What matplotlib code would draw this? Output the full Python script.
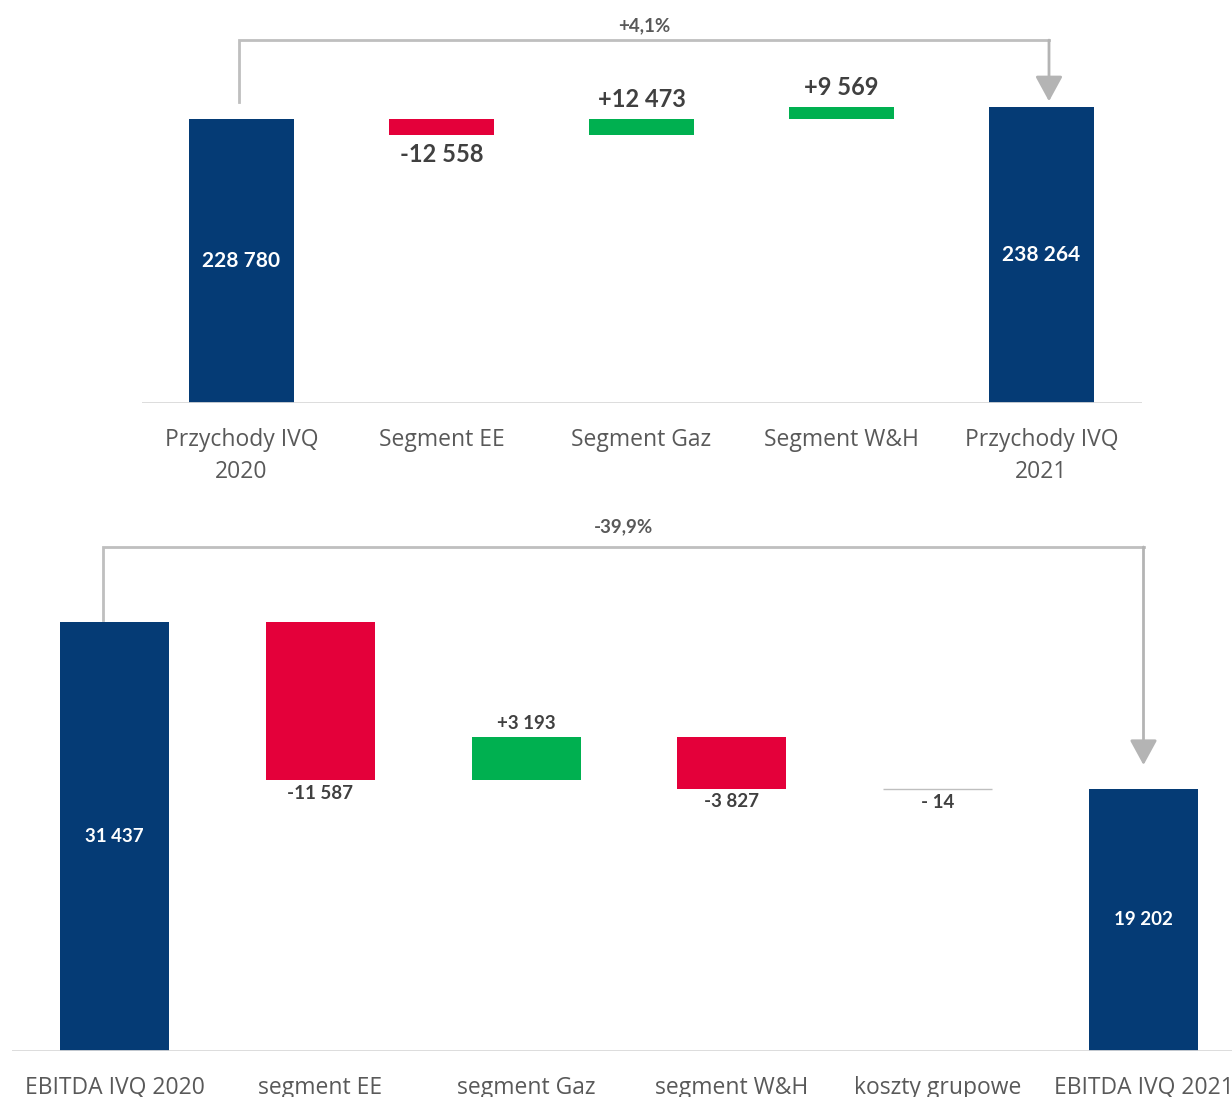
import matplotlib.pyplot as plt

# --- data -------------------------------------------------------------
rev_labels = ["Przychody IVQ\n2020", "Segment EE", "Segment Gaz", "Segment W&H", "Przychody IVQ\n2021"]
rev_start = 228780
rev_deltas = [-12558, 12473, 9569]
rev_end = 238264
rev_change = "+4,1%"

ebitda_labels = ["EBITDA IVQ 2020", "segment EE", "segment Gaz", "segment W&H", "koszty grupowe", "EBITDA IVQ 2021"]
ebitda_start = 31437
ebitda_deltas = [-11587, 3193, -3827, -14]
ebitda_end = 19202
ebitda_change = "-39,9%"

NAVY = "#053b75"
RED = "#e4003a"
GREEN = "#00b050"
GREY_LINE = "#bfbfbf"
TXT = "#595959"
VAL = "#404040"

LABEL_FONT = "Open Sans"
NUM_FONT = "Lato"


def fmt_total(v):
    return f"{v:,}".replace(",", " ")


def fmt_delta(v):
    sign = "+" if v > 0 else "-"
    if abs(v) < 1000:
        return sign + " " + str(abs(v))
    return sign + f"{abs(v):,}".replace(",", " ")


def waterfall(ax, labels, start, deltas, end, width, total_fs, delta_fs, gap_pt, cat_fs, pad):
    n = len(labels)
    xs = list(range(n))
    # totals
    ax.bar([0, n - 1], [start, end], width=width, color=NAVY, zorder=2)
    ax.text(0, start / 2, fmt_total(start), ha="center", va="center", color="white",
            fontsize=total_fs, fontweight="bold", family=NUM_FONT)
    ax.text(n - 1, end / 2, fmt_total(end), ha="center", va="center", color="white",
            fontsize=total_fs, fontweight="bold", family=NUM_FONT)
    level = start
    for i, d in enumerate(deltas, start=1):
        lo = min(level, level + d)
        if abs(d) < 100:
            ax.bar(i, abs(d), bottom=lo, width=width, color=GREY_LINE,
                   edgecolor=GREY_LINE, linewidth=1, zorder=2)
        else:
            ax.bar(i, abs(d), bottom=lo, width=width, color=GREEN if d > 0 else RED, zorder=2)
        if d > 0:
            ax.annotate(fmt_delta(d), xy=(i, lo + abs(d)), xytext=(0, gap_pt), textcoords="offset points",
                        ha="center", va="center", color=VAL, fontsize=delta_fs,
                        fontweight="bold", family=NUM_FONT)
        else:
            ax.annotate(fmt_delta(d), xy=(i, lo), xytext=(0, -gap_pt), textcoords="offset points",
                        ha="center", va="center", color=VAL, fontsize=delta_fs,
                        fontweight="bold", family=NUM_FONT)
        level += d
    ax.axhline(0, color="#d9d9d9", lw=2, zorder=3)
    ax.set_xticks(xs)
    ax.set_xticklabels(labels, fontsize=cat_fs, color=TXT, family=LABEL_FONT, linespacing=1.45)
    ax.tick_params(axis="x", length=0, pad=pad)
    ax.set_yticks([])
    for s in ax.spines.values():
        s.set_visible(False)
    ax.set_xlim(-0.5, n - 0.5)


def connector(ax, x0, y0, x1, y1, yc, text, ytext, fs):
    ax.plot([x0, x0, x1], [y0, yc, yc], color=GREY_LINE, lw=2, clip_on=False,
            solid_joinstyle="miter", zorder=1)
    ax.annotate("", xy=(x1, y1), xytext=(x1, yc),
                arrowprops=dict(arrowstyle="-|>,head_length=0.55,head_width=0.3",
                                color="#b4b4b4", lw=2, mutation_scale=28,
                                shrinkA=0, shrinkB=0),
                annotation_clip=False)
    ax.text((x0 + x1) / 2, ytext, text, ha="center", va="center", color=TXT,
            fontsize=fs, fontweight="bold", family=NUM_FONT, clip_on=False)


fig = plt.figure(figsize=(12.32, 10.97), dpi=100)

# top: revenue
ax1 = fig.add_axes([141.5 / 1232, (1097 - 403) / 1097, 1000 / 1232, 322.7 / 1097])
ax1.set_ylim(0, 260000)
waterfall(ax1, rev_labels, rev_start, rev_deltas, rev_end, 0.525, 15, 17, 14, 16.5, 18)
connector(ax1, -0.0125, rev_start + 13500, 4.0375, rev_end + 4800, 292400,
          rev_change, 303700, 13.5)

# bottom: EBITDA
ax2 = fig.add_axes([11.6 / 1232, (1097 - 1051) / 1097, 1234.8 / 1232, 491.3 / 1097])
ax2.set_ylim(0, 36000)
waterfall(ax2, ebitda_labels, ebitda_start, ebitda_deltas, ebitda_end, 0.53, 13.5, 13.5, 9.5, 16.5, 18)
connector(ax2, -0.055, ebitda_start + 150, 5.0, ebitda_end + 1750, 36930,
          ebitda_change, 38390, 13.5)

fig.savefig("out.png", dpi=100, facecolor="white")
